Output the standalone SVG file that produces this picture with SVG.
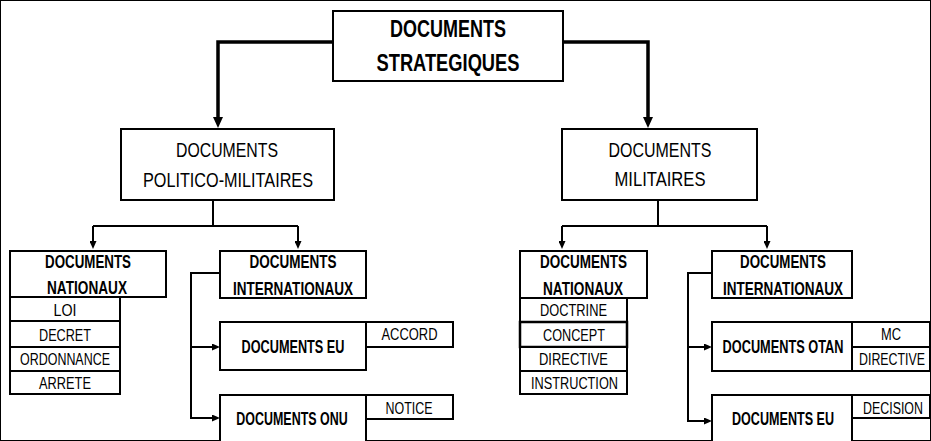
<svg xmlns="http://www.w3.org/2000/svg" width="931" height="441" viewBox="0 0 931 441">
<defs>
<style>
rect, .box { fill: #fff; stroke: #000; stroke-width: 2; }
.sep { stroke: #000; stroke-width: 2; fill: none; }
text { font-family: "Liberation Sans", Arial, sans-serif; fill: #000; text-anchor: middle; }
.t1 { font-size: 23px; font-weight: bold; }
.t2 { font-size: 21px; }
.t3 { font-size: 19px; font-weight: bold; }
.t4 { font-size: 16.5px; }
.c-thick { fill: none; stroke: #000; stroke-width: 3.5; }
.c-thin { fill: none; stroke: #000; stroke-width: 2; }
</style>
<marker id="bigArrow" viewBox="0 0 11 10" refX="0" refY="5" markerWidth="11" markerHeight="10" markerUnits="userSpaceOnUse" orient="auto">
<path d="M0,0 L11,5 L0,10 z" fill="#000"/>
</marker>
<marker id="smallArrow" viewBox="0 0 8 7" refX="0" refY="3.5" markerWidth="8" markerHeight="7" markerUnits="userSpaceOnUse" orient="auto">
<path d="M0,0 L8,3.5 L0,7 z" fill="#000"/>
</marker>
</defs>
<rect x="0" y="0" width="931" height="441" fill="#fff" stroke="none"/>

<g id="connectors">
<path class="c-thick" d="M333,42 H218 V117" marker-end="url(#bigArrow)"/>
<path class="c-thick" d="M563,42 H648 V117" marker-end="url(#bigArrow)"/>
<path class="c-thin" d="M213,200 V226"/>
<path class="c-thin" d="M93,226 H298"/>
<path class="c-thin" d="M93,226 V241" marker-end="url(#smallArrow)"/>
<path class="c-thin" d="M298,226 V241" marker-end="url(#smallArrow)"/>
<path class="c-thin" d="M658,200 V226"/>
<path class="c-thin" d="M562,226 H767"/>
<path class="c-thin" d="M562,226 V241" marker-end="url(#smallArrow)"/>
<path class="c-thin" d="M767,226 V241" marker-end="url(#smallArrow)"/>
<path class="c-thin" d="M220,273 H191 V418 H212" marker-end="url(#smallArrow)"/>
<path class="c-thin" d="M191,347 H212" marker-end="url(#smallArrow)"/>
<path class="c-thin" d="M712,273 H688 V421 H704" marker-end="url(#smallArrow)"/>
<path class="c-thin" d="M688,347 H704" marker-end="url(#smallArrow)"/>
</g>

<g id="node-strategiques">
<rect x="333" y="11" width="230" height="70"/>
<text class="t1" x="448" y="37" textLength="116" lengthAdjust="spacingAndGlyphs">DOCUMENTS</text>
<text class="t1" x="448" y="71" textLength="143" lengthAdjust="spacingAndGlyphs">STRATEGIQUES</text>
</g>

<g id="node-politico">
<rect x="121" y="129" width="213" height="71"/>
<text class="t2" x="227" y="157" textLength="102" lengthAdjust="spacingAndGlyphs">DOCUMENTS</text>
<text class="t2" x="228" y="187" textLength="170" lengthAdjust="spacingAndGlyphs">POLITICO-MILITAIRES</text>
</g>

<g id="node-militaires">
<rect x="562" y="129" width="195" height="71"/>
<text class="t2" x="660" y="157" textLength="103" lengthAdjust="spacingAndGlyphs">DOCUMENTS</text>
<text class="t2" x="660" y="186" textLength="91" lengthAdjust="spacingAndGlyphs">MILITAIRES</text>
</g>

<g id="node-nationaux-pm">
<rect x="10" y="251" width="156" height="46"/>
<text class="t3" x="88" y="268" textLength="86" lengthAdjust="spacingAndGlyphs">DOCUMENTS</text>
<text class="t3" x="87" y="294" textLength="80" lengthAdjust="spacingAndGlyphs">NATIONAUX</text>
<rect x="10" y="297" width="110" height="24"/>
<rect x="10" y="321" width="110" height="26"/>
<rect x="10" y="347" width="110" height="24"/>
<rect x="10" y="371" width="110" height="23"/>
<text class="t4" x="65" y="316" textLength="23" lengthAdjust="spacingAndGlyphs">LOI</text>
<text class="t4" x="65" y="341" textLength="52" lengthAdjust="spacingAndGlyphs">DECRET</text>
<text class="t4" x="65" y="365" textLength="90" lengthAdjust="spacingAndGlyphs">ORDONNANCE</text>
<text class="t4" x="65" y="389" textLength="52" lengthAdjust="spacingAndGlyphs">ARRETE</text>
</g>

<g id="node-internationaux-pm">
<rect x="220" y="251" width="146" height="47"/>
<text class="t3" x="293" y="268" textLength="87" lengthAdjust="spacingAndGlyphs">DOCUMENTS</text>
<text class="t3" x="293" y="295" textLength="120" lengthAdjust="spacingAndGlyphs">INTERNATIONAUX</text>
</g>

<g id="node-eu-pm">
<rect x="220" y="322" width="146" height="48"/>
<text class="t3" x="293" y="353" textLength="103" lengthAdjust="spacingAndGlyphs">DOCUMENTS EU</text>
<rect x="366" y="322" width="87" height="25"/>
<text class="t4" x="409.5" y="340" textLength="56" lengthAdjust="spacingAndGlyphs">ACCORD</text>
</g>

<g id="node-onu">
<rect x="220" y="395" width="146" height="60"/>
<text class="t3" transform="translate(292,425) scale(0.656,1)">DOCUMENTS ONU</text>
<rect x="366" y="395" width="87" height="24"/>
<text class="t4" transform="translate(409,414) scale(0.754,1)">NOTICE</text>
</g>

<g id="node-nationaux-mil">
<rect x="520" y="251" width="127" height="47"/>
<text class="t3" x="583.5" y="268" textLength="87" lengthAdjust="spacingAndGlyphs">DOCUMENTS</text>
<text class="t3" x="583" y="295" textLength="80" lengthAdjust="spacingAndGlyphs">NATIONAUX</text>
<rect x="520" y="298" width="107" height="24"/>
<rect x="520" y="322" width="107" height="25" style="stroke-width:2.5"/>
<rect x="520" y="347" width="107" height="24"/>
<rect x="520" y="371" width="107" height="23"/>
<text class="t4" x="573.5" y="316" textLength="67" lengthAdjust="spacingAndGlyphs">DOCTRINE</text>
<text class="t4" x="574" y="341" textLength="62" lengthAdjust="spacingAndGlyphs">CONCEPT</text>
<text class="t4" x="573.5" y="365" textLength="69" lengthAdjust="spacingAndGlyphs">DIRECTIVE</text>
<text class="t4" x="574.5" y="389" textLength="87" lengthAdjust="spacingAndGlyphs">INSTRUCTION</text>
</g>

<g id="node-internationaux-mil">
<rect x="712" y="251" width="140" height="47"/>
<text class="t3" x="783" y="268" textLength="86" lengthAdjust="spacingAndGlyphs">DOCUMENTS</text>
<text class="t3" x="783" y="295" textLength="120" lengthAdjust="spacingAndGlyphs">INTERNATIONAUX</text>
</g>

<g id="node-otan">
<rect x="712" y="322" width="140" height="49"/>
<text class="t3" transform="translate(783,353) scale(0.672,1)">DOCUMENTS OTAN</text>
<rect x="852" y="322" width="78" height="49"/>
<line class="sep" x1="852" y1="347" x2="930" y2="347"/>
<text class="t4" transform="translate(891,340) scale(0.78,1)">MC</text>
<text class="t4" transform="translate(892,365) scale(0.75,1)">DIRECTIVE</text>
</g>

<g id="node-eu-mil">
<rect x="712" y="395" width="140" height="60"/>
<text class="t3" transform="translate(783,425) scale(0.662,1)">DOCUMENTS EU</text>
<rect x="852" y="395" width="78" height="23"/>
<text class="t4" transform="translate(893,414) scale(0.752,1)">DECISION</text>
</g>
</svg>
